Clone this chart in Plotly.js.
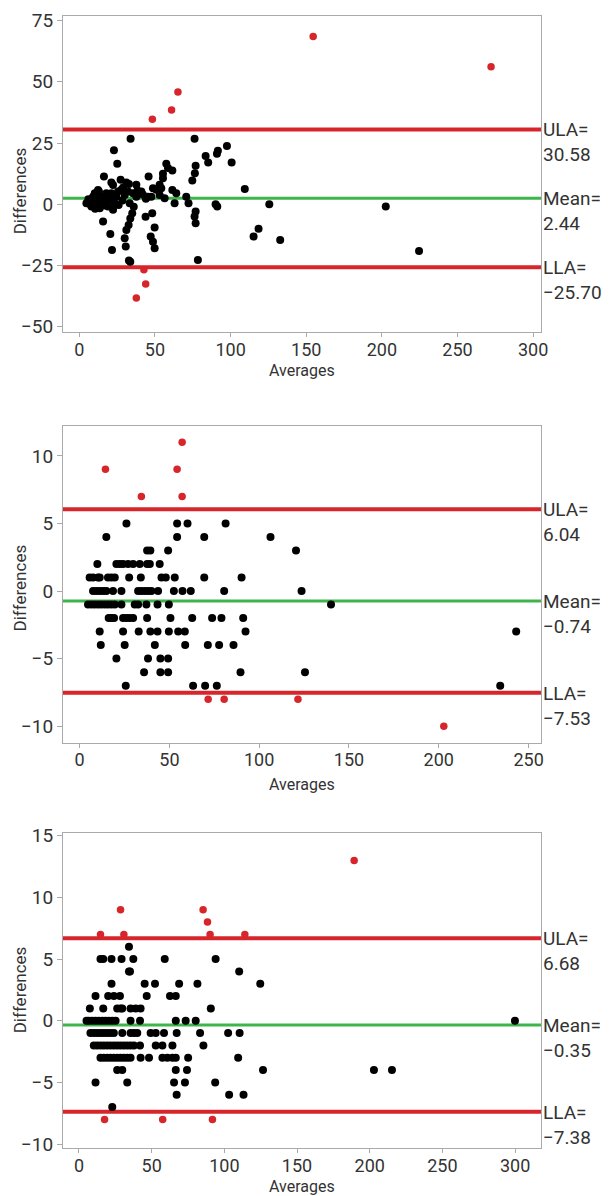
<!DOCTYPE html>
<html><head><meta charset="utf-8">
<script src="https://cdn.plot.ly/plotly-3.0.1.min.js"></script>
<style>body{margin:0;padding:0;background:#fff}#chart{width:609px;height:1196px}</style>
</head><body><div id="chart"></div>
<script>
// ---------- Panel 1 ----------
const p1BlackX = [33.9,76.2,22.9,25.1,83.5,85.2,91.0,91.6,97.6,100.7,76.9,76.4,74.7,57.5,58.6,61.5,55.3,45.8,16.3,21.2,27.3,31.1,37.7,12.4,48.7,53.1,61.5,109.4,
  22.3,32.8,54.2,55.3,64.1,63.0,70.7,72.2,
  4.7,6.9,8.0,9.1,10.2,11.3,12.4,13.0,13.5,14.6,15.7,17.9,19.0,20.1,21.2,22.3,23.4,24.5,25.6,27.8,30.0,32.2,33.3,35.5,37.7,39.9,41.0,45.4,47.6,50.9,53.1,56.4,
  6.0,7.5,9.5,10.5,11.8,14.0,16.5,18.5,26.0,28.5,29.0,36.0,38.5,42.0,44.0,
  15.7,20.5,21.6,30.7,30.0,31.1,32.6,33.7,35.0,43.8,48.2,49.8,47.2,48.7,49.8,32.8,33.7,
  90.1,91.2,125.6,202.6,118.5,115.2,132.8,224.6,78.4,76.9,76.2,76.9];
const p1BlackY = [26.7,26.7,22.1,16.5,19.7,17.0,20.6,21.8,23.8,17.0,15.7,12.7,9.7,16.5,14.8,13.8,12.5,11.3,11.3,8.9,10.0,8.9,8.0,5.8,6.5,8.0,5.8,6.2,
  7.9,8.3,6.5,10.6,4.5,0.4,3.1,0.4,
  0.4,1.1,-0.9,3.1,4.5,1.8,0.4,5.2,-1.6,3.1,1.1,4.5,-0.9,1.8,4.5,-2.3,0.4,3.1,5.2,5.9,3.8,5.2,0.4,4.5,3.1,4.5,5.2,3.1,3.1,5.9,3.8,2.4,
  2.0,-0.2,1.0,-1.8,2.8,0.0,-0.5,2.5,-0.3,1.5,6.8,-1.0,5.6,4.0,2.2,
  -7.1,-12.2,-18.7,-17.3,-13.9,-10.5,-8.5,-5.8,-3.7,-5.1,-3.7,-9.5,-13.2,-15.3,-18.0,-23.0,-23.5,
  0.0,-0.9,0.0,-0.9,-10.0,-13.2,-14.6,-19.1,-22.8,-3.0,-5.0,-7.8];
const p1RedX = [48.3,61.0,65.2,154.6,272.2,42.7,43.9,37.7];
const p1RedY = [34.7,38.5,45.8,68.5,56.2,-26.8,-32.6,-38.3];
const p1Limits = {ULA: 30.58, Mean: 2.44, LLA: -25.70};

// ---------- Panel 2 ----------
const p2BlackX = [26.1,54.3,60.1,81.3, 14.9,54.3,69.4,106.3, 37.6,39.4,49.3,120.5,
  9.9,20.5,22.4,24.2,27.0,29.8,33.5,37.6,39.1,44.6,
  5.6,7.5,10.3,11.2,15.8,17.7,19.6,27.6,34.1,45.6,48.0,53.0,69.4,90.2,
  7.5,9.3,11.2,13.1,14.9,18.6,23.3,32.6,34.4,36.3,38.1,40.0,43.7,52.5,57.3,61.9,80.5,123.6,
  4.7,6.6,8.4,10.3,12.1,14.0,15.8,17.7,19.6,23.3,30.7,32.6,37.2,43.4,49.7,140.0,
  16.2,17.7,19.2,24.2,26.1,27.9,29.8,37.6,50.6,62.7,73.8,79.0,91.1,
  11.2,24.2,32.9,39.4,43.4,49.7,54.9,58.6,92.4,243.1,
  11.8,25.1,41.9,58.8,71.4,77.7,85.7,
  20.5,38.1,45.0,49.3,
  35.9,45.0,49.3,89.6,125.5,
  25.7,63.2,69.9,76.4,234.2];
const p2BlackY = [5,5,5,5, 4,4,4,4, 3,3,3,3,
  2,2,2,2,2,2,2,2,2,2,
  1,1,1,1,1,1,1,1,1,1,1,1,1,1,
  0,0,0,0,0,0,0,0,0,0,0,0,0,0,0,0,0,0,
  -1,-1,-1,-1,-1,-1,-1,-1,-1,-1,-1,-1,-1,-1,-1,-1,
  -2,-2,-2,-2,-2,-2,-2,-2,-2,-2,-2,-2,-2,
  -3,-3,-3,-3,-3,-3,-3,-3,-3,-3,
  -4,-4,-4,-4,-4,-4,-4,
  -5,-5,-5,-5,
  -6,-6,-6,-6,-6,
  -7,-7,-7,-7,-7];
const p2RedX = [14.4,34.4,54.3,57.1,57.1,71.6,80.5,121.6,202.8];
const p2RedY = [9,7,9,11,7,-8,-8,-8,-10];
const p2Limits = {ULA: 6.04, Mean: -0.74, LLA: -7.53};

// ---------- Panel 3 ----------
const p3BlackX = [34.4,
  14.8,16.7,22.4,29.3,37.4,59.0,94.0,
  34.4,35.1,110.2,
  22.4,45.2,52.3,68.9,81.5,124.7,
  11.4,20.1,24.0,28.2,46.6,62.6,66.6,
  7.5,16.7,26.3,28.6,29.8,35.5,39.0,42.4,90.7,
  5.2,6.8,9.1,11.4,13.7,16.0,18.3,20.6,22.9,25.2,35.5,42.0,66.6,73.4,80.3,299.9,
  7.9,10.2,12.5,14.8,17.1,19.4,21.7,24.0,29.8,35.5,37.8,40.1,49.3,52.8,58.5,67.2,83.3,102.6,110.5,
  10.2,12.5,14.8,17.1,19.4,21.7,24.0,26.3,28.6,30.9,33.2,35.5,37.8,42.0,52.8,57.4,64.3,85.6,
  14.8,17.1,19.4,21.7,24.0,26.3,28.6,30.9,33.2,35.5,42.4,48.2,57.4,60.8,64.3,66.6,75.1,109.5,
  26.3,29.8,66.6,74.3,126.6,202.9,215.3,
  11.4,33.2,65.4,72.9,93.7,
  67.2,103.3,113.2,
  22.9];
const p3BlackY = [6,
  5,5,5,5,5,5,5,
  4,4,4,
  3,3,3,3,3,3,
  2,2,2,2,2,2,2,
  1,1,1,1,1,1,1,1,1,
  0,0,0,0,0,0,0,0,0,0,0,0,0,0,0,0,
  -1,-1,-1,-1,-1,-1,-1,-1,-1,-1,-1,-1,-1,-1,-1,-1,-1,-1,-1,
  -2,-2,-2,-2,-2,-2,-2,-2,-2,-2,-2,-2,-2,-2,-2,-2,-2,-2,
  -3,-3,-3,-3,-3,-3,-3,-3,-3,-3,-3,-3,-3,-3,-3,-3,-3,-3,
  -4,-4,-4,-4,-4,-4,-4,
  -5,-5,-5,-5,-5,
  -6,-6,-6,
  -7];
const p3RedX = [28.6,14.8,30.9,85.4,88.4,90.2,114.1,189.3,17.6,57.6,91.8];
const p3RedY = [9,7,7,9,8,7,7,13,-8,-8,-8];
const p3Limits = {ULA: 6.68, Mean: -0.35, LLA: -7.38};

// tick values
const p1YTicks = [-50,-25,0,25,50,75];
const p2YTicks = [-10,-5,0,5,10];
const p3YTicks = [-10,-5,0,5,10,15];
const p1XTicks = [0,50,100,150,200,250,300];
const p2XTicks = [0,50,100,150,200,250];
const p3XTicks = [0,50,100,150,200,250,300];
const yTitle = 'Differences', xTitle = 'Averages';

const BLACK = '#000000', RED = '#d7262b', GREEN = '#3db54a', LRED = '#d7262b';
const FONT = 'Roboto, "Open Sans", sans-serif';
const TXT = '#333333';
const H = 1196;

const panels = [
  {bx:p1BlackX, by:p1BlackY, rx:p1RedX, ry:p1RedY, lim:p1Limits, yt:p1YTicks, xt:p1XTicks, xr:[-10.8,305.2], yr:[-52.2,76.9], dom:[0.72241,0.98662], ty:0.84, tx:371},
  {bx:p2BlackX, by:p2BlackY, rx:p2RedX, ry:p2RedY, lim:p2Limits, yt:p2YTicks, xt:p2XTicks, xr:[-9.25,256.9], yr:[-11.22,12.23], dom:[0.37902,0.64406], ty:0.508, tx:784},
  {bx:p3BlackX, by:p3BlackY, rx:p3RedX, ry:p3RedY, lim:p3Limits, yt:p3YTicks, xt:p3XTicks, xr:[-11.0,317.8], yr:[-10.36,15.25], dom:[0.03972,0.30376], ty:0.172, tx:1186}
];

const data = [], shapes = [], annotations = [];
const layout = {
  width: 609, height: H, margin:{l:0,r:0,t:0,b:0},
  paper_bgcolor:'#ffffff', plot_bgcolor:'#ffffff', showlegend:false,
  font:{family:FONT, color:TXT, size:17}
};
const fmt = v => v.toFixed(2).replace('-', '\u2212');

panels.forEach((p, i) => {
  const n = i === 0 ? '' : String(i+1);
  const xa = 'x'+n, ya = 'y'+n;
  data.push({type:'scatter', mode:'markers', x:p.bx, y:p.by, xaxis:xa, yaxis:ya,
    marker:{color:BLACK, size:8}, hoverinfo:'skip'});
  data.push({type:'scatter', mode:'markers', x:p.rx, y:p.ry, xaxis:xa, yaxis:ya,
    marker:{color:RED, size:7.5}, hoverinfo:'skip'});
  [['ULA', LRED, 4], ['Mean', GREEN, 3], ['LLA', LRED, 4]].forEach(([k, c, w]) => {
    shapes.push({type:'line', xref:xa+' domain', yref:ya, x0:0, x1:1, y0:p.lim[k], y1:p.lim[k],
      line:{color:c, width:w}, layer:'below'});
    annotations.push({xref:xa+' domain', yref:ya, x:1, y:p.lim[k], xanchor:'left', yanchor:'top',
      xshift:0, yshift:13, align:'left', showarrow:false,
      text:k+'=<br>'+fmt(p.lim[k]), font:{family:FONT, size:19, color:TXT}});
  });
  annotations.push({xref:'paper', yref:'paper', x:20/609, y:p.ty, xanchor:'center', yanchor:'middle',
    textangle:-90, showarrow:false, text:yTitle, font:{family:FONT, size:17, color:TXT}});
  annotations.push({xref:xa+' domain', yref:'paper', x:0.5, y:1 - p.tx/H, xanchor:'center', yanchor:'middle',
    showarrow:false, text:xTitle, borderpad:0, font:{family:FONT, size:16, color:TXT}});
  layout['xaxis'+n] = {domain:[0.1034,0.8883], range:p.xr, anchor:ya,
    tickvals:p.xt, ticks:'outside', ticklen:4, tickcolor:'#aaaaaa',
    showline:true, linecolor:'#aaaaaa', linewidth:1, mirror:true, ticklabelstandoff:-3,
    showgrid:false, zeroline:false, tickfont:{size:18, color:TXT, family:FONT}};
  layout['yaxis'+n] = {domain:p.dom, range:p.yr, anchor:xa,
    tickvals:p.yt, ticks:'outside', ticklen:5, tickcolor:'#aaaaaa',
    showline:true, linecolor:'#aaaaaa', linewidth:1, mirror:true,
    showgrid:false, zeroline:false, tickfont:{size:19, color:TXT, family:FONT}};
});
layout.shapes = shapes;
layout.annotations = annotations;

Plotly.newPlot('chart', data, layout, {staticPlot:true, displayModeBar:false});
</script>
</body></html>
